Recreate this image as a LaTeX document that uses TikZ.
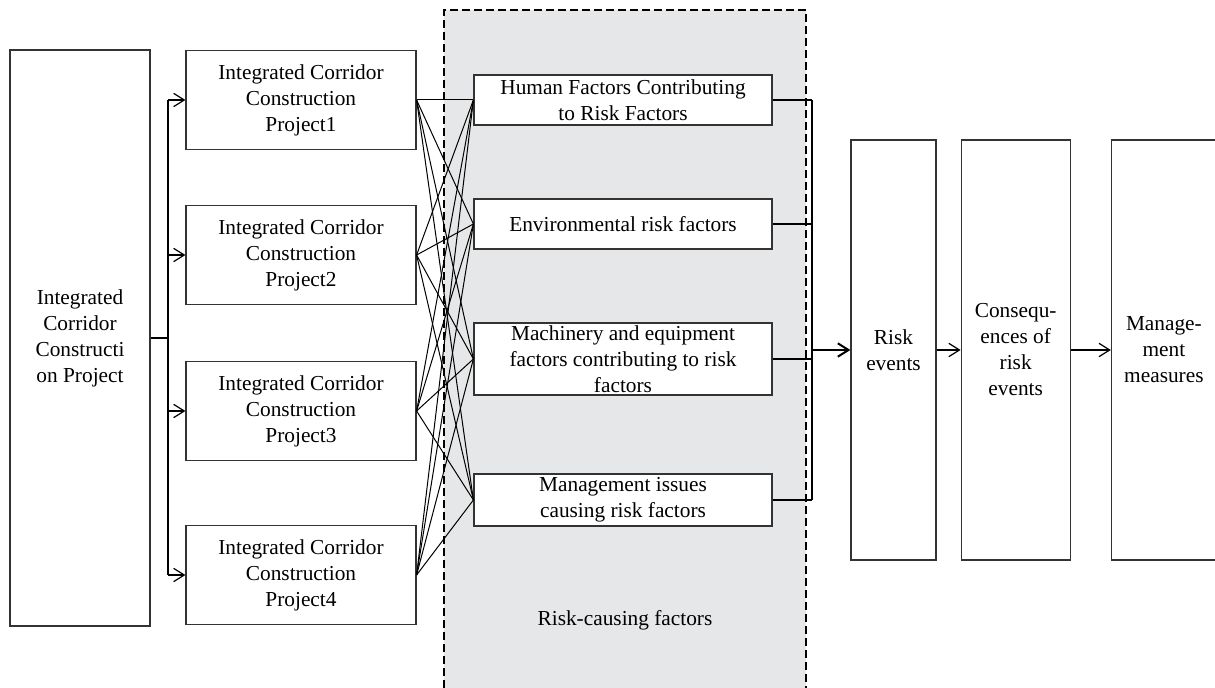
\documentclass[tikz,border=0pt]{standalone}
\usepackage{fontspec}
\setmainfont{Liberation Serif}
\usepackage{tikz}
\usetikzlibrary{arrows.meta,calc,positioning}
\definecolor{zonegray}{HTML}{E6E7E8}
\definecolor{linegray}{HTML}{333333}

\begin{document}
\begin{tikzpicture}[x=0.75pt, y=-0.75pt,
  box/.style={rectangle, draw=linegray, line width=0.9pt, fill=white, align=center,
    font=\fontsize{16}{19.5}\selectfont, inner sep=1pt},
  proj/.style={box, minimum width=172.5pt, minimum height=74.25pt},
  factor/.style={box, minimum width=223.5pt},
  tall/.style={box, minimum height=315pt},
  link/.style={line width=0.75pt},
  arr/.style={line width=0.9pt, -{Straight Barb[length=8pt,width=10pt]}}]
\useasboundingbox (0,0) rectangle (1215,688);
% shaded zone of the risk-causing factors
\fill[zonegray] (444,10) rectangle (806,688);
\draw[dash pattern=on 6pt off 3pt, line width=0.8pt] (444,688) -- (444,10) -- (806,10) -- (806,688);
\node[font=\fontsize{16}{19.5}\selectfont] (zonelabel) at (625,620) {Risk-causing factors};

\node[box, minimum width=105pt, minimum height=432pt] (main) at (80,338) {Integrated\\Corridor\\Constructi\\on Project};
\node[proj] (p1) at (301,100) {Integrated Corridor\\Construction\\Project1};
\node[proj] (p2) at (301,255) {Integrated Corridor\\Construction\\Project2};
\node[proj] (p3) at (301,411) {Integrated Corridor\\Construction\\Project3};
\node[proj] (p4) at (301,575) {Integrated Corridor\\Construction\\Project4};

\node[factor, minimum height=37.5pt] (f1) at (623,100) {Human Factors Contributing\\to Risk Factors};
\node[factor, minimum height=37.5pt] (f2) at (623,224) {Environmental risk factors};
\node[factor, minimum height=54pt] (f3) at (623,359) {Machinery and equipment\\factors contributing to risk\\factors};
\node[factor, minimum height=39pt] (f4) at (623,500) {Management issues\\causing risk factors};

\node[tall, minimum width=63.75pt] (risk) at (893.5,350) {Risk\\events};
\node[tall, minimum width=81.75pt, right=18pt of risk] (cons) {Consequ-\\ences of\\risk\\events};
\node[tall, minimum width=78.75pt, right=30pt of cons] (mgmt) {Manage-\\ment\\measures};

% project branches
\coordinate (trunk) at (168,338);
\draw[line width=1.5pt] (main.east) -- (trunk);
\draw[line width=1.5pt] (trunk |- p1.west) -- (trunk |- p4.west);
\foreach \p in {1,...,4}
  \draw[arr] (trunk |- p\p.west) -- (p\p.west);

% every project to every factor
\foreach \p in {1,...,4}
  \foreach \f in {1,...,4}
    \draw[link] (p\p.east) -- (f\f.west);

% factors gathered into risk events
\coordinate (bus) at (812,350);
\foreach \f in {1,...,4}
  \draw[line width=0.9pt] (f\f.east) -- (bus |- f\f.east);
\draw[line width=1.5pt] (bus |- f1.east) -- (bus |- f4.east);
\draw[arr, line width=1.5pt] (bus |- risk.west) -- (risk.west);
\draw[arr] (risk) -- (cons);
\draw[arr] (cons) -- (mgmt);
\end{tikzpicture}
\end{document}
